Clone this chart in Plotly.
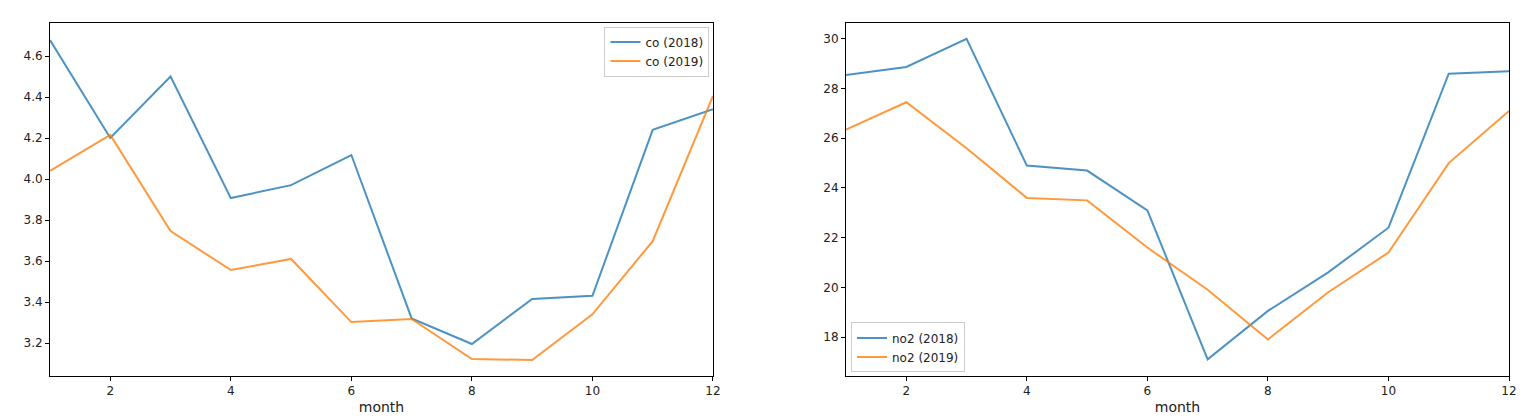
import plotly.graph_objects as go

months = list(range(1, 13))
co_2018 = [4.678, 4.2, 4.5, 3.907, 3.97, 4.117, 3.32, 3.195, 3.415, 3.43, 4.24, 4.34]
co_2019 = [4.04, 4.215, 3.746, 3.556, 3.61, 3.302, 3.317, 3.122, 3.117, 3.34, 3.697, 4.405]
no2_2018 = [28.55, 28.87, 30.0, 24.9, 24.7, 23.1, 17.1, 19.05, 20.6, 22.4, 28.6, 28.7]
no2_2019 = [26.35, 27.45, 25.6, 23.6, 23.5, 21.6, 19.9, 17.9, 19.8, 21.4, 25.0, 27.1]

blue = "rgba(31,119,180,0.8)"
orange = "rgba(255,127,14,0.8)"

fig = go.Figure()
fig.add_trace(go.Scatter(x=months, y=co_2018, mode="lines", name="co (2018)", line=dict(color=blue, width=2), xaxis="x", yaxis="y", legend="legend"))
fig.add_trace(go.Scatter(x=months, y=co_2019, mode="lines", name="co (2019)", line=dict(color=orange, width=2), xaxis="x", yaxis="y", legend="legend"))
fig.add_trace(go.Scatter(x=months, y=no2_2018, mode="lines", name="no2 (2018)", line=dict(color=blue, width=2), xaxis="x2", yaxis="y2", legend="legend2"))
fig.add_trace(go.Scatter(x=months, y=no2_2019, mode="lines", name="no2 (2019)", line=dict(color=orange, width=2), xaxis="x2", yaxis="y2", legend="legend2"))

ax = dict(showline=True, mirror=True, linecolor="black", linewidth=1, showgrid=False, zeroline=False,
          ticks="outside", ticklen=4, tickcolor="black", tickfont=dict(size=12, color="#222"), automargin=False)
fig.update_layout(
    width=1536, height=418, margin=dict(l=42, r=35, t=15, b=50, autoexpand=False),
    paper_bgcolor="white", plot_bgcolor="white",
    font=dict(family="DejaVu Sans", size=12, color="#222"),
    xaxis=dict(domain=[0.0, 0.4544], range=[1, 12], tickvals=[2, 4, 6, 8, 10, 12], anchor="y",
               title=dict(text="month", standoff=4), **ax),
    yaxis=dict(domain=[0, 1], range=[3.039, 4.761], tickvals=[3.2, 3.4, 3.6, 3.8, 4.0, 4.2, 4.4, 4.6],
               tickformat=".1f", anchor="x", **ax),
    xaxis2=dict(domain=[0.5456, 1.0], range=[1, 12], tickvals=[2, 4, 6, 8, 10, 12], anchor="y2",
                title=dict(text="month", standoff=4), **ax),
    yaxis2=dict(domain=[0, 1], range=[16.43, 30.64], tickvals=[18, 20, 22, 24, 26, 28, 30], anchor="x2", **ax),
    legend=dict(x=0.452, y=0.99, xanchor="right", yanchor="top", bordercolor="#ccc", borderwidth=1,
                bgcolor="rgba(255,255,255,0.8)", font=dict(size=12)),
    legend2=dict(x=0.549, y=0.01, xanchor="left", yanchor="bottom", bordercolor="#ccc", borderwidth=1,
                 bgcolor="rgba(255,255,255,0.8)", font=dict(size=12)),
)
fig.write_html("out.html")
